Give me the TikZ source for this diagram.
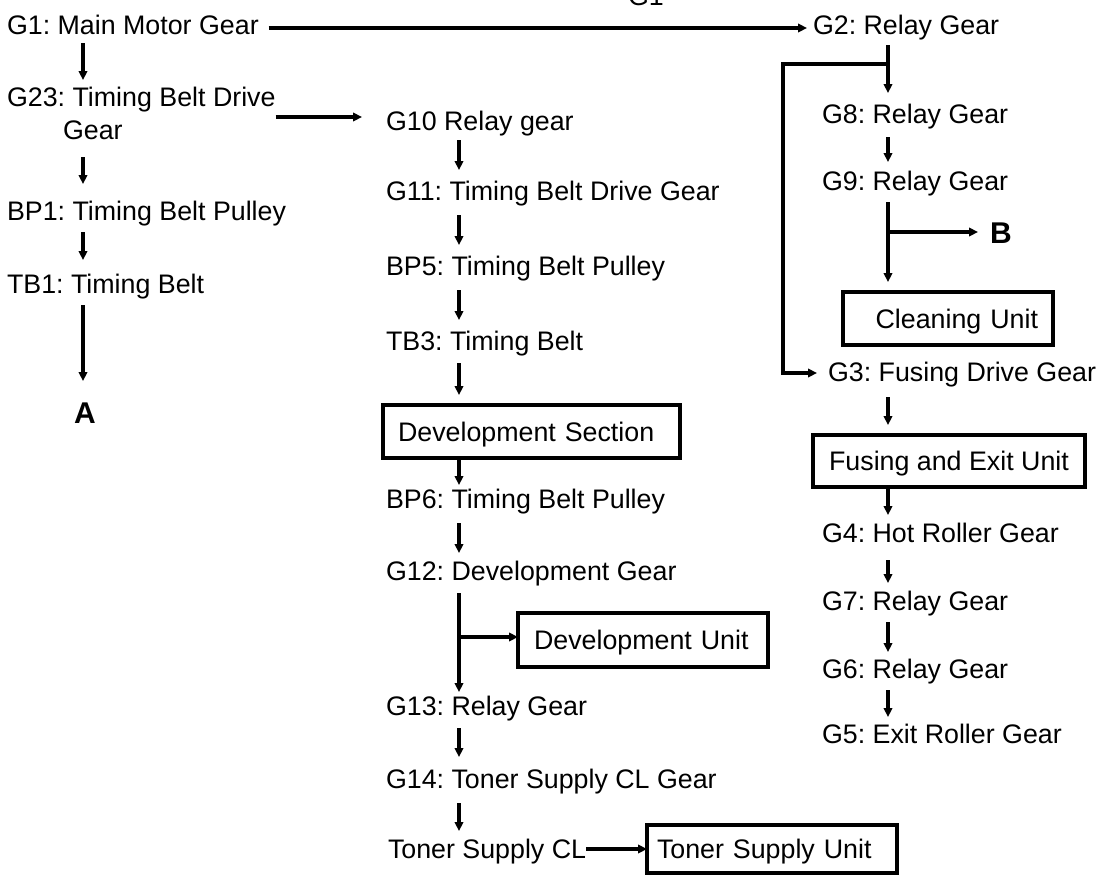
\documentclass[tikz,border=0pt]{standalone}
\usepackage{fontspec}
\setmainfont{Liberation Sans}
\usetikzlibrary{arrows.meta,calc}
\frenchspacing
\tikzset{
  lbl/.style={inner sep=0pt, outer sep=0pt, anchor=base west, font=\fontsize{26.8}{33}\selectfont\frenchspacing},
  big/.style={inner sep=0pt, outer sep=0pt, anchor=base west, font=\fontsize{30}{36}\selectfont\bfseries},
  unitbox/.style={draw, line width=4pt, anchor=north west, outer sep=0pt, inner ysep=0pt,
    text height=19pt, text depth=0pt, align=left, font=\fontsize{26.8}{33}\selectfont\frenchspacing},
  conn/.style={line width=3.3pt},
  arr/.style={conn, -{Triangle[length=9pt,width=8.5pt]}},
}
\begin{document}
\begin{tikzpicture}[x=1pt,y=-1pt]
\useasboundingbox (0,0) rectangle (1106,876);
\fill[white] (0,0) rectangle (1106,876);

% column guides
\coordinate (colA) at (83,0);
\coordinate (colB) at (459,0);
\coordinate (colC) at (888,0);
\coordinate (colL) at (783,0);

% top label (partly cut off)
\node[lbl] (g1top) at (628,5) {G1};

% left column
\node[lbl] (g1) at (7,34) {G1: Main Motor Gear};
\node[lbl, align=left] (g23) at (7,139) {G23: Timing Belt Drive\\\hspace*{56pt}Gear};
\node[lbl] (bp1) at (7,220) {BP1: Timing Belt Pulley};
\node[lbl] (tb1) at (7,293) {TB1: Timing Belt};
\node[big] (a) at (74,423) {A};

% middle column
\node[lbl] (g10) at (386,130) {G10 Relay gear};
\node[lbl] (g11) at (386,200) {G11: Timing Belt Drive Gear};
\node[lbl] (bp5) at (386,275) {BP5: Timing Belt Pulley};
\node[lbl] (tb3) at (386,350) {TB3: Timing Belt};
\node[unitbox, minimum width=297pt, minimum height=53pt, text width=267pt, inner xsep=15pt] (devsec) at (383,405) {Development Section};
\node[lbl] (bp6) at (386,508) {BP6: Timing Belt Pulley};
\node[lbl] (g12) at (386,580) {G12: Development Gear};
\node[unitbox, minimum width=250pt, minimum height=54pt, text width=218pt, inner xsep=16pt] (devunit) at (518,613) {Development Unit};
\node[lbl] (g13) at (386,715) {G13: Relay Gear};
\node[lbl] (g14) at (386,788) {G14: Toner Supply CL Gear};
\node[lbl] (tscl) at (388,858) {Toner Supply CL};
\node[unitbox, minimum width=250pt, minimum height=48pt, text width=230pt, inner xsep=10pt] (tsu) at (647,825) {Toner Supply Unit};

% right column
\node[lbl] (g2) at (813,34) {G2: Relay Gear};
\node[lbl] (g8) at (822,123) {G8: Relay Gear};
\node[lbl] (g9) at (822,190) {G9: Relay Gear};
\node[big] (b) at (990,243) {B};
\node[unitbox, minimum width=210pt, minimum height=53pt, text width=180pt, inner xsep=15pt, align=right] (clean) at (843,292) {Cleaning Unit};
\node[lbl] (g3) at (828,381) {G3: Fusing Drive Gear};
\node[unitbox, minimum width=272pt, minimum height=52pt, inner xsep=0pt, align=center] (fuse) at (813,435) {Fusing and Exit Unit};
\node[lbl] (g4) at (822,542) {G4: Hot Roller Gear};
\node[lbl] (g7) at (822,610) {G7: Relay Gear};
\node[lbl] (g6) at (822,678) {G6: Relay Gear};
\node[lbl] (g5) at (822,743) {G5: Exit Roller Gear};

% ---- connectors: left column
\draw[arr] ($(g1.base east)+(10,-6)$) -- ($(g2.base west)+(-6,-6)$);
\draw[arr] ($(g1.base -| colA)+(0,9)$) -- ($(g23.base -| colA)+(0,-59)$);
\draw[arr] ($(g23.base east)+(0,-22)$) -- ($(g10.base west)+(-24,-13)$);
\draw[arr] ($(g23.base -| colA)+(0,18)$) -- ($(bp1.base -| colA)+(0,-36)$);
\draw[arr] ($(bp1.base -| colA)+(0,12)$) -- ($(tb1.base -| colA)+(0,-33)$);
\draw[arr] ($(tb1.base -| colA)+(0,12)$) -- ($(a.base -| colA)+(0,-42)$);

% ---- connectors: middle column
\draw[arr] ($(g10.base -| colB)+(0,10)$) -- ($(g11.base -| colB)+(0,-30)$);
\draw[arr] ($(g11.base -| colB)+(0,15)$) -- ($(bp5.base -| colB)+(0,-30)$);
\draw[arr] ($(bp5.base -| colB)+(0,15)$) -- ($(tb3.base -| colB)+(0,-30)$);
\draw[arr] ($(tb3.base -| colB)+(0,13)$) -- ($(devsec.north -| colB)+(0,-10)$);
\draw[arr] (devsec.south -| colB) -- ($(bp6.base -| colB)+(0,-23)$);
\draw[arr] ($(bp6.base -| colB)+(0,15)$) -- ($(g12.base -| colB)+(0,-27)$);
\draw[arr] ($(g12.base -| colB)+(0,13)$) -- ($(g13.base -| colB)+(0,-23)$);
\draw[arr] ($(g12.base -| colB)+(0,57)$) -- ($(g12.base -| devunit.west)+(0,57)$);
\draw[arr] ($(g13.base -| colB)+(0,13)$) -- ($(g14.base -| colB)+(0,-31)$);
\draw[arr] ($(g14.base -| colB)+(0,15)$) -- ($(tscl.base -| colB)+(0,-27)$);
\draw[arr] ($(tscl.base east)+(0,-9)$) -- ($(tscl.base -| tsu.west)+(0,-9)$);

% ---- connectors: right column
\draw[arr] ($(g2.base -| colC)+(0,11)$) -- ($(g8.base -| colC)+(0,-30)$);
\draw[arr] ($(g2.base -| colC)+(0,30)$) -- ($(g2.base -| colL)+(0,30)$)
  -- ($(g3.base -| colL)+(0,-8)$) -- ($(g3.base west)+(-11,-8)$);
\draw[arr] ($(g8.base -| colC)+(0,14)$) -- ($(g9.base -| colC)+(0,-28)$);
\draw[arr] ($(g9.base -| colC)+(0,12)$) -- ($(clean.north -| colC)+(0,-10)$);
\draw[arr] ($(g9.base -| colC)+(0,42)$) -- ($(b.base west)+(-12,-11)$);
\draw[arr] ($(g3.base -| colC)+(0,16)$) -- ($(fuse.north -| colC)+(0,-10)$);
\draw[arr] (fuse.south -| colC) -- ($(g4.base -| colC)+(0,-27)$);
\draw[arr] ($(g4.base -| colC)+(0,18)$) -- ($(g7.base -| colC)+(0,-27)$);
\draw[arr] ($(g7.base -| colC)+(0,12)$) -- ($(g6.base -| colC)+(0,-26)$);
\draw[arr] ($(g6.base -| colC)+(0,12)$) -- ($(g5.base -| colC)+(0,-26)$);
\end{tikzpicture}
\end{document}
